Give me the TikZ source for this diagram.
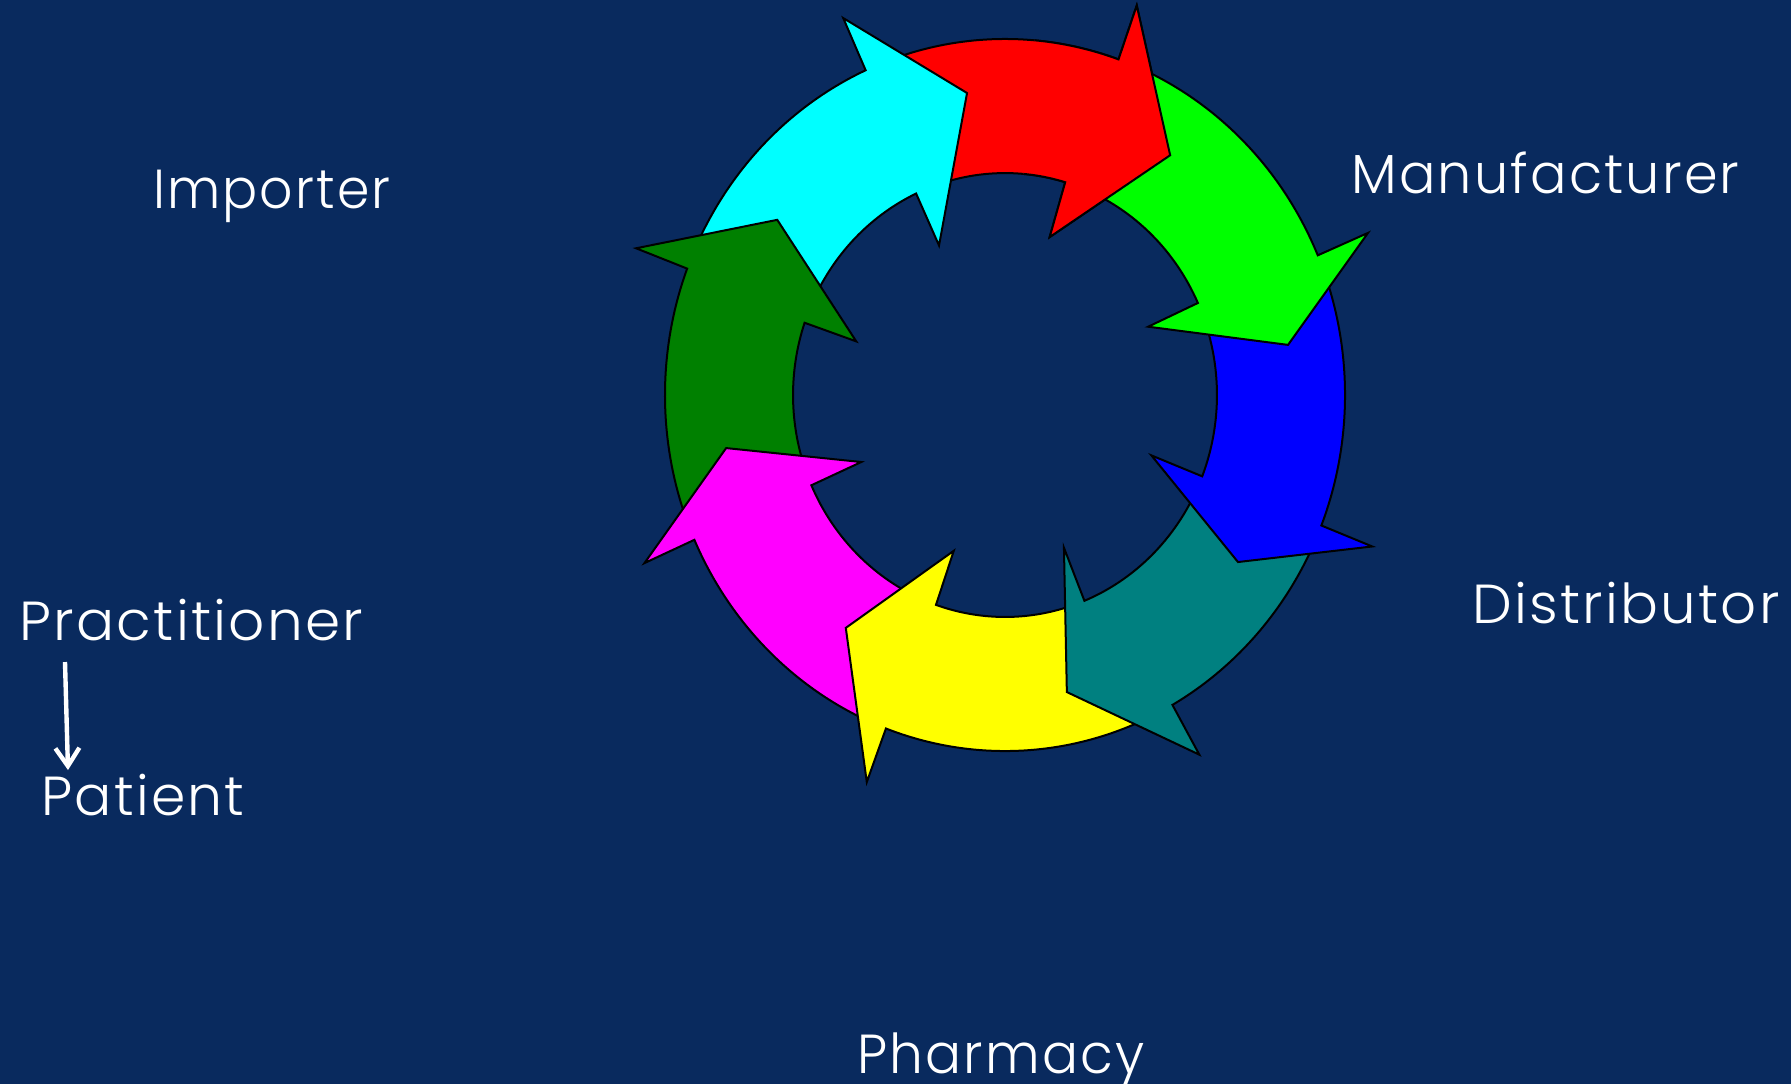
\documentclass[tikz,border=0pt]{standalone}
\usepackage{fontspec}
\setmainfont{Poppins Light}[LetterSpace=4]
\usetikzlibrary{arrows.meta}
\definecolor{bgblue}{RGB}{9,42,94}
\definecolor{ccyan}{RGB}{0,255,255}
\definecolor{cred}{RGB}{255,0,0}
\definecolor{clime}{RGB}{0,255,0}
\definecolor{cblue}{RGB}{0,0,255}
\definecolor{cteal}{RGB}{0,128,128}
\definecolor{cyellow}{RGB}{255,255,0}
\definecolor{cmagenta}{RGB}{255,0,255}
\definecolor{cdkgreen}{RGB}{0,128,0}
% color, outer tail, inner tail, outer base, inner base, tip angle, tip radius (math angles)
\newcommand\ringarrow[7]{%
  \filldraw[ringarr, fill=#1] (#2:1.232) arc[start angle=#2, end angle=#4, radius=1.232]
    -- (#4:1.43) -- (#6:#7) -- (#5:0.57) -- (#5:0.768)
    arc[start angle=#5, end angle=#3, radius=0.768] -- cycle;}
\newcommand\lbltext[2]{\resizebox{#1}{\height}{#2}}
\begin{document}
\begin{tikzpicture}[x=0.5pt,y=-0.5pt,
  lbl/.style={text=white, font=\fontsize{27.5}{32}\selectfont, anchor=base west, inner sep=0pt},
  ringarr/.style={draw=black, line width=1pt, line join=miter}]
\fill[bgblue] (0,0) rectangle (1791,1084);
\useasboundingbox (0,0) rectangle (1791,1084);
\begin{scope}[shift={(1005,395)}, x=138pt, y=144.5pt]
  \ringarrow{cred}{110.2}{111.8}{70.5}{73.5}{54.2}{1.023}
  \ringarrow{ccyan}{155.2}{158}{114.2}{114.8}{97.5}{1.054}
  \ringarrow{cdkgreen}{-160}{-159}{-200.8}{-199}{-216.3}{1.024}
  \ringarrow{cmagenta}{-114.5}{-112}{-156}{-156}{-169.7}{1.027}
  \ringarrow{cyellow}{-64.5}{-73}{-110.5}{-109}{-125.6}{0.991}
  \ringarrow{cteal}{-25.5}{-24.5}{-60.5}{-68}{-77.7}{1.052}
  \ringarrow{cblue}{19.1}{21.5}{-21.5}{-21.5}{-34.4}{1.023}
  \ringarrow{clime}{66.5}{70.5}{23.1}{24.5}{9.6}{1.04}
  \begin{scope}
    \clip (0,0) -- (85:2) -- (60:2.5) -- (30:2) -- cycle;
    \ringarrow{cred}{110.2}{111.8}{70.5}{73.5}{54.2}{1.023}
  \end{scope}
\end{scope}
\node[lbl] (importer) at (153,208) {\lbltext{118.5pt}{Importer}};
\node[lbl] (manufacturer) at (1351,193) {\lbltext{194pt}{Manufacturer}};
\node[lbl] (distributor) at (1472,623) {\lbltext{153.5pt}{Distributor}};
\node[lbl] (pharmacy) at (857,1073) {\lbltext{143.5pt}{Pharmacy}};
\node[lbl] (practitioner) at (19,640) {\lbltext{172pt}{Practitioner}};
\node[lbl] (patient) at (41,815) {\lbltext{101.5pt}{Patient}};
\coordinate (pp1) at (65,662);
\coordinate (pp2) at (68,770);
\draw[white, line width=2.2pt, -{Straight Barb[length=9pt,width=12pt]}] (pp1) -- (pp2);
\end{tikzpicture}
\end{document}
